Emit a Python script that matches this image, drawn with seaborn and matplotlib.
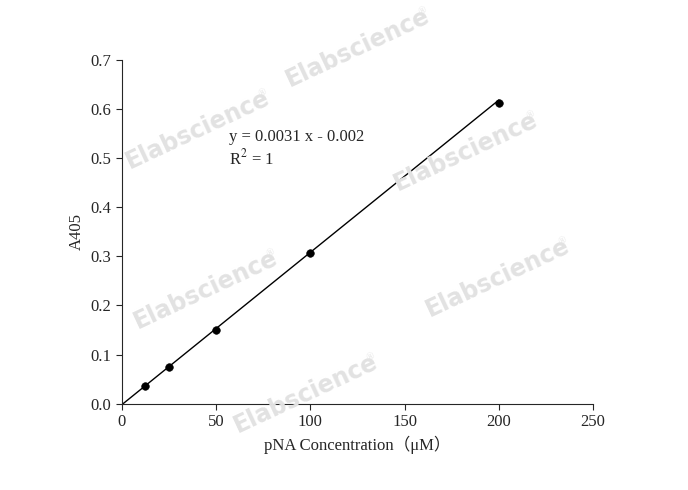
import matplotlib
matplotlib.use('Agg')
import matplotlib.pyplot as plt
import seaborn as sns
import numpy as np

conc = [12.5, 25, 50, 100, 200]
absorb = [0.037, 0.074, 0.151, 0.306, 0.613]
slope, intercept = 0.0031, -0.002
x_ticks = [0, 50, 100, 150, 200, 250]
y_ticks = [0.0, 0.1, 0.2, 0.3, 0.4, 0.5, 0.6, 0.7]

sns.set_style('ticks')
plt.rcParams['font.family'] = ['Liberation Serif', 'Noto Sans CJK SC']
plt.rcParams['mathtext.fontset'] = 'stix'

fig = plt.figure(figsize=(6.88, 4.9), dpi=100)
ax = fig.add_axes([0.177, 0.176, 0.685, 0.702])

# 水印
marks = [(358, 48), (198, 130), (466, 152), (498, 278), (206, 290), (306, 394)]
for px, py in marks:
    fig.text(px / 688, 1 - py / 490, 'Elabscience', fontsize=17, color='#e2e2e2',
             rotation=25, ha='center', va='center', family='DejaVu Sans',
             weight='bold', zorder=0)
    fig.text(px / 688 + 0.095, 1 - py / 490 + 0.075, '®', fontsize=7,
             color='#e2e2e2', rotation=25, ha='center', va='center', zorder=0)

lx = np.array([0.65, 200])
sns.lineplot(x=lx, y=slope * lx + intercept, color='black', linewidth=1, ax=ax)
sns.scatterplot(x=conc, y=absorb, color='black', s=30, edgecolor='black', ax=ax, zorder=3)

ax.set_xlim(0, 250)
ax.set_ylim(0, 0.7)
ax.set_xticks(x_ticks)
ax.set_yticks(y_ticks)
ax.set_yticklabels([f'{v:.1f}' for v in y_ticks])
ax.tick_params(direction='out', length=4, labelsize=12)
for s in ['top', 'right']:
    ax.spines[s].set_visible(False)
ax.set_xlabel('pNA Concentration（μM）', fontsize=12)
ax.set_ylabel('A405', fontsize=12)
ax.patch.set_alpha(0)

ax.text(57, 0.543, 'y = 0.0031 x - 0.002', fontsize=12, va='center')
ax.text(57, 0.5, 'R$^{2}$ = 1', fontsize=12, va='center')

fig.savefig('out.png', dpi=100)
